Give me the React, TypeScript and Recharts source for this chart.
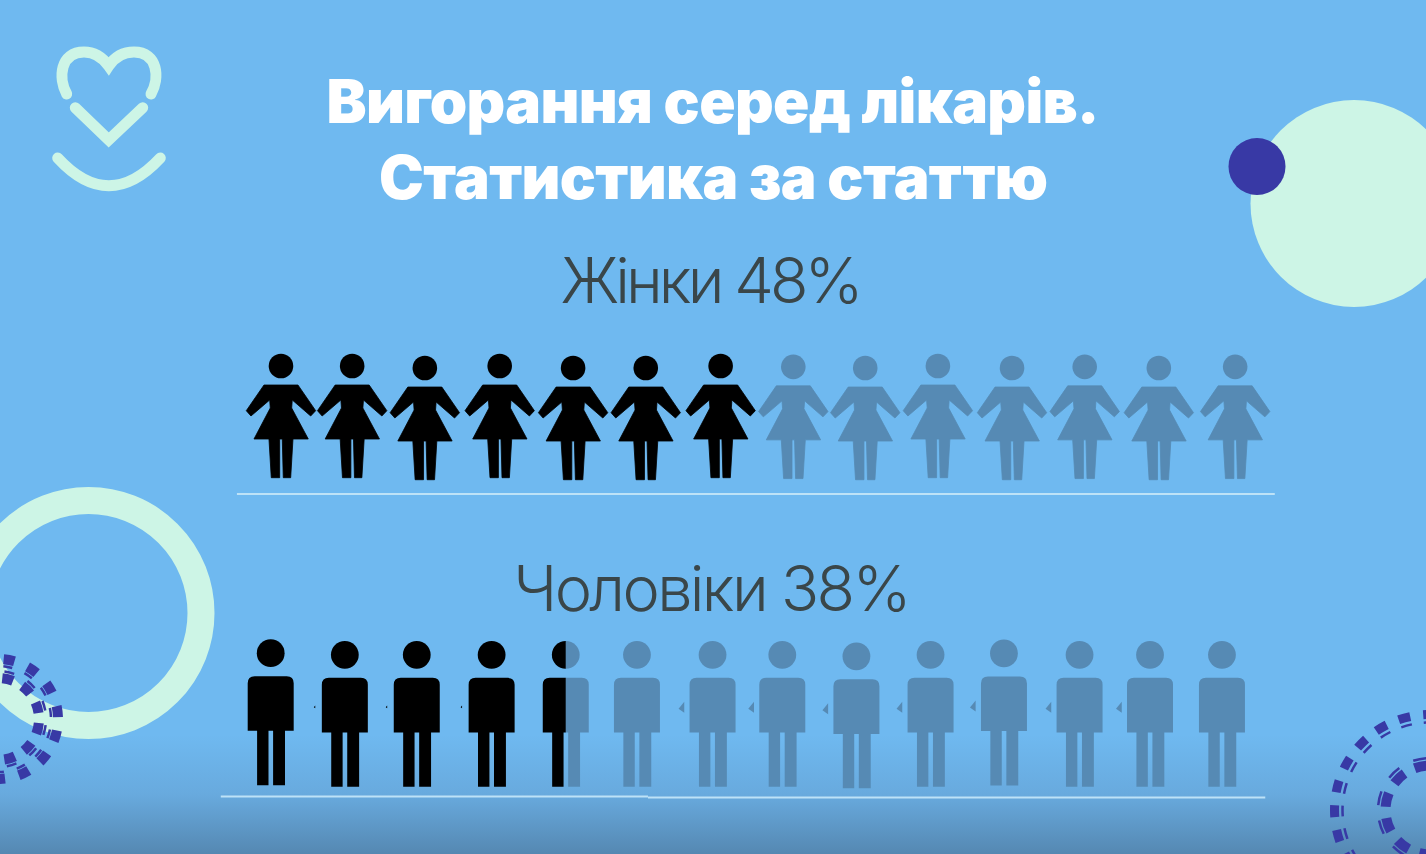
import { ScatterChart, Scatter, XAxis, YAxis, ReferenceLine } from "recharts"

const titleLines = ["Вигорання серед лікарів.", "Статистика за статтю"]
const womenLabel = "Жінки 48%"
const menLabel = "Чоловіки 38%"

// slot number of every figure (figures drift a little)
const womenSlots = [1, 1.97, 2.96, 3.98, 4.98, 5.97, 6.99, 7.98, 8.96, 9.95, 10.96, 11.95, 12.96, 14]
const womenRows = [1, 1, 1.007, 1, 1.007, 1.007, 1, 1.003, 1.007, 1, 1.007, 1.003, 1.007, 1.003]
const womenFilled = [1, 1, 1, 1, 1, 1, 1, 0, 0, 0, 0, 0, 0, 0]

const menSlots = [0.86, 1.87, 2.85, 3.87, 4.88, 5.85, 6.88, 7.83, 8.84, 9.85, 10.85, 11.88, 12.84, 13.82]
const menRows = [1.997, 2.003, 2.003, 2.003, 2.003, 2.003, 2.003, 2.003, 2.008, 2.003, 1.998, 2.003, 2.003, 2.003]
const menFilled = [1, 1, 1, 1, 0.5, 0, 0, 0, 0, 0, 0, 0, 0, 0]
const menSlivers = [0, 1, 1, 1, 0, 0, 1, 1, 1, 1, 1, 1, 1, 0]

const BLACK = "#000000"
const FADED = "#568ab4"
const MINT = "#cdf5e6"
const INDIGO = "#3839a5"
const RULE = "#bde2f7"

const womenData = womenSlots.map((slot, i) => ({ slot, row: womenRows[i], filled: womenFilled[i] }))
const menData = menSlots.map((slot, i) => ({ slot, row: menRows[i], filled: menFilled[i], sliver: menSlivers[i] }))

function Woman({ cx, cy, payload }: any) {
  const color = payload.filled ? BLACK : FADED
  return (
    <g transform={`translate(${cx},${cy})`} fill={color}>
      <circle r={12.3} />
      <path
        stroke={color}
        strokeWidth={0.8}
        strokeLinejoin="round"
        d="M-17 19 L17 19 L34.7 44.7 L29.7 50 L11.3 34 L10.7 42 L27.3 73 L12 73 L9.7 111.7 L2.3 111.7 L1.3 73 L-1.3 73 L-1.3 111.7 L-9.7 111.7 L-12 73 L-27 73 L-10.7 42 L-11.3 34 L-30 50 L-34.7 44.7 Z"
      />
    </g>
  )
}

function manParts() {
  return (
    <>
      <circle r={13.9} />
      <path d="M-23 77.6 L-23 30 Q-23 23 -16 23 L16 23 Q23 23 23 30 L23 77.6 L14.3 77.6 L14.3 132 L2.4 132 L2.4 77.6 L-2.2 77.6 L-2.2 132 L-13.6 132 L-13.6 77.6 Z" />
    </>
  )
}

function Man({ cx, cy, index, payload }: any) {
  const id = `man-split-${index}`
  const splitX = -30 + 60 * payload.filled
  return (
    <g transform={`translate(${cx},${cy})`}>
      <defs>
        <clipPath id={id}>
          <rect x={-30} y={-20} width={60 * payload.filled} height={160} />
        </clipPath>
        <clipPath id={id + "-rest"}>
          <rect x={splitX} y={-20} width={60 - 60 * payload.filled} height={160} />
        </clipPath>
      </defs>
      <g fill={FADED} clipPath={`url(#${id}-rest)`}>{manParts()}</g>
      <g fill={BLACK} clipPath={`url(#${id})`}>{manParts()}</g>
      {payload.sliver ? (
        <path d="M-28.3 47 L-34 54 L-28.3 58 Z" fill={payload.filled ? BLACK : FADED} transform={payload.filled ? "translate(-30 52) scale(0.25) translate(30 -52)" : undefined} />
      ) : null}
    </g>
  )
}

function DashRing({ cx, cy, r, width, count, dash, startDeg }: any) {
  const length = 2 * Math.PI * r
  return (
    <circle
      cx={cx}
      cy={cy}
      r={r}
      fill="none"
      stroke={INDIGO}
      strokeWidth={width}
      strokeDasharray={`${dash} ${length / count - dash}`}
      strokeDashoffset={-(startDeg / 360) * length + dash / 2}
    />
  )
}

function Backdrop() {
  return (
    <svg width={1426} height={854} style={{ position: "absolute", left: 0, top: 0 }}>
      <defs>
        <linearGradient id="page" x1="0" y1="0" x2="0" y2="1">
          <stop offset="0.86" stopColor="#6fb9f0" />
          <stop offset="0.93" stopColor="#68aade" />
          <stop offset="1" stopColor="#5588b2" />
        </linearGradient>
      </defs>
      <rect width={1426} height={854} fill="url(#page)" />

      <g fill="none" stroke={MINT} strokeWidth={11} strokeLinecap="round">
        <path d="M66.7 94 C58 78 60 52 84 52 C96 52 103 58 108.7 66 C114 58 121 52 134 52 C158 52 160 78 151 94" />
        <path d="M75.3 107.7 L108.7 140 L142.7 107.7" />
        <path d="M57.7 158 Q108.7 213.5 160.3 158" />
      </g>

      <circle cx={1354} cy={203.5} r={103.5} fill={MINT} />
      <circle cx={1257} cy={166.5} r={28.5} fill={INDIGO} />
      <circle cx={88.5} cy={613} r={112.5} fill="none" stroke={MINT} strokeWidth={27} />

      <DashRing cx={-2} cy={719} r={60} width={10} count={15} dash={11} startDeg={-7.7} />
      <DashRing cx={-2} cy={719} r={53} width={2.5} count={15} dash={9} startDeg={-7.7} />
      <DashRing cx={-2} cy={719} r={41} width={10} count={12} dash={11} startDeg={-16.7} />
      <DashRing cx={-2} cy={719} r={48} width={2.5} count={12} dash={10} startDeg={-16.7} />

      <DashRing cx={1430} cy={810} r={95.5} width={9} count={24} dash={12} startDeg={-151} />
      <DashRing cx={1430} cy={810} r={87.5} width={2.5} count={24} dash={11} startDeg={-151} />
      <DashRing cx={1430} cy={810} r={44.5} width={10} count={11} dash={14} startDeg={-167} />
      <DashRing cx={1430} cy={810} r={52} width={2.5} count={11} dash={14} startDeg={-167} />

      <g textAnchor="middle" fontFamily="Inter, 'Open Sans', sans-serif">
        <text x={713} y={123} fontSize={60} fontWeight={900} fill="#ffffff" textLength={773} lengthAdjust="spacing">{titleLines[0]}</text>
        <text x={713.5} y={199} fontSize={60} fontWeight={900} fill="#ffffff" textLength={669} lengthAdjust="spacing">{titleLines[1]}</text>
        <text x={712} y={303} fontSize={63} fontWeight={300} fill="#3a4649" textLength={303} lengthAdjust="spacing">{womenLabel}</text>
        <text x={712.5} y={611} fontSize={63} fontWeight={300} fill="#3a4649" textLength={398} lengthAdjust="spacing">{menLabel}</text>
      </g>
    </svg>
  )
}

export default function App() {
  return (
    <div style={{ position: "absolute", left: 0, top: 0, width: 1426, height: 854, overflow: "hidden" }}>
      <Backdrop />
      <div style={{ position: "absolute", left: 0, top: 0 }}>
        <ScatterChart width={1426} height={854} margin={{ top: 0, right: 0, bottom: 0, left: 0 }}>
          <XAxis type="number" dataKey="slot" domain={[-2.828, 16.6]} hide />
          <YAxis type="number" dataKey="row" domain={[-0.2708, 2.6944]} reversed hide />
          <ReferenceLine segment={[{ x: 0.4, y: 1.444 }, { x: 14.54, y: 1.444 }]} stroke={RULE} strokeWidth={2} ifOverflow="visible" />
          <ReferenceLine segment={[{ x: 0.18, y: 2.495 }, { x: 6.0, y: 2.495 }]} stroke={RULE} strokeWidth={2} ifOverflow="visible" />
          <ReferenceLine segment={[{ x: 6.0, y: 2.498 }, { x: 14.41, y: 2.498 }]} stroke={RULE} strokeWidth={2} ifOverflow="visible" />
          <Scatter name="Жінки" data={womenData} shape={Woman} isAnimationActive={false} />
          <Scatter name="Чоловіки" data={menData} shape={Man} isAnimationActive={false} />
        </ScatterChart>
      </div>
    </div>
  )
}
